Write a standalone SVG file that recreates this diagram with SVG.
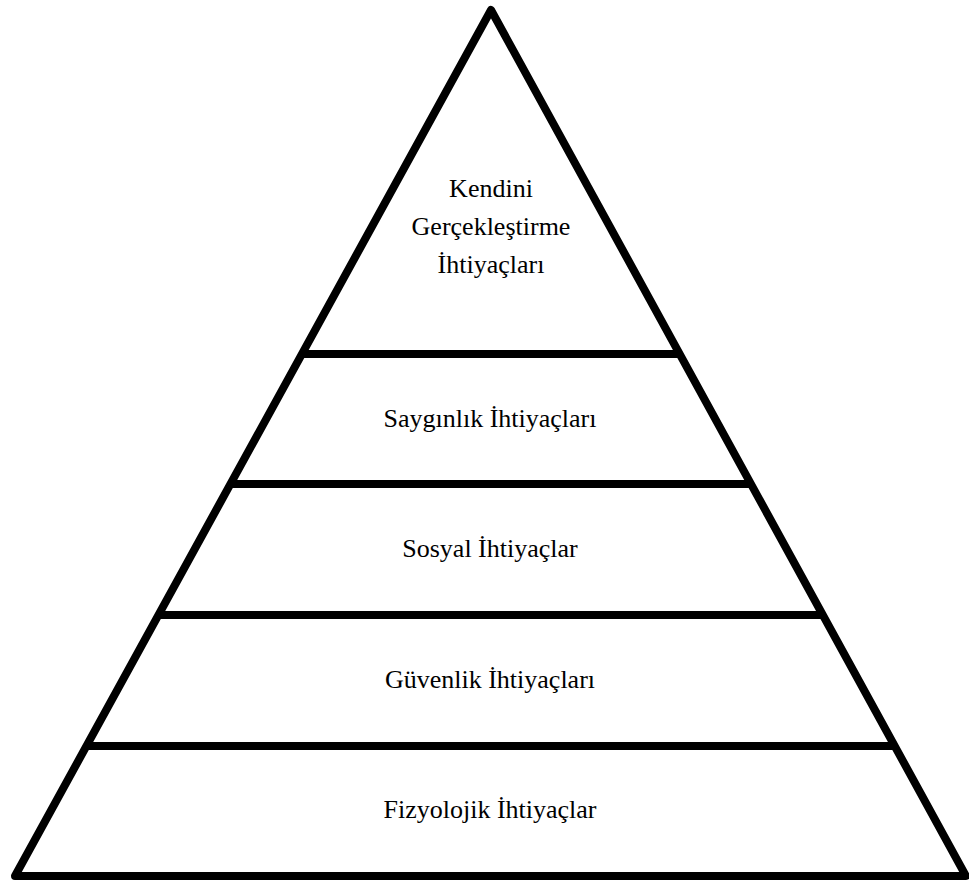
<svg xmlns="http://www.w3.org/2000/svg" width="969" height="883" viewBox="0 0 969 883">
  <style>
    .edge { fill: none; stroke: #000; stroke-width: 8; stroke-linejoin: round; }
    .sep { stroke: #000; stroke-width: 8; }
    .lbl { font-family: "Liberation Serif", "Times New Roman", serif; font-size: 26px; fill: #000; text-anchor: middle; }
  </style>
  <rect x="0" y="0" width="969" height="883" fill="#fff"/>
  <g id="pyramid">
    <polygon class="edge" points="491,10 966,876 15,876"/>
  </g>
  <g id="connectors">
    <line class="sep" x1="301.9" y1="354" x2="679.7" y2="354"/>
    <line class="sep" x1="230.4" y1="484" x2="751" y2="484"/>
    <line class="sep" x1="158.4" y1="615" x2="822.8" y2="615"/>
    <line class="sep" x1="86.4" y1="746" x2="894.7" y2="746"/>
  </g>
  <g id="level5">
    <text class="lbl" x="491" y="197">Kendini</text>
    <text class="lbl" x="491" y="235">Gerçekleştirme</text>
    <text class="lbl" x="491" y="273">İhtiyaçları</text>
  </g>
  <g id="level4">
    <text class="lbl" x="490" y="427">Saygınlık İhtiyaçları</text>
  </g>
  <g id="level3">
    <text class="lbl" x="490" y="557">Sosyal İhtiyaçlar</text>
  </g>
  <g id="level2">
    <text class="lbl" x="490" y="688">Güvenlik İhtiyaçları</text>
  </g>
  <g id="level1">
    <text class="lbl" x="490" y="818">Fizyolojik İhtiyaçlar</text>
  </g>
</svg>
